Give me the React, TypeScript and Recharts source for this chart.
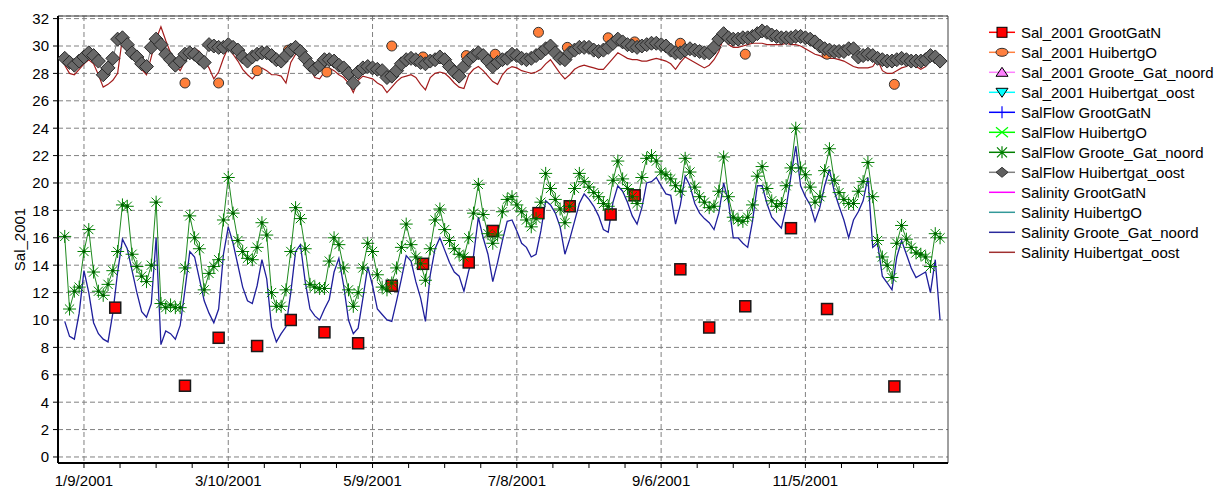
import React from 'react'
import { ComposedChart, Line, XAxis, YAxis, CartesianGrid, ReferenceLine } from 'recharts'

// days since 1 Jan 2001, model output every 2 days
const lineDays = Array.from({ length: 183 }, (_, i) => i * 2)

// Salinity Groote_Gat_noord (blue line)
const salGrooteGat = [
  9.9, 8.8, 8.6, 10.5, 13.6, 12.0, 9.8, 9.0, 8.6, 8.4,
  10.5, 13.5, 15.9, 15.2, 13.6, 12.0, 10.6, 10.2, 11.2, 16.0,
  8.2, 9.2, 9.0, 8.6, 9.6, 12.2, 15.0, 14.6, 13.0, 11.4,
  10.5, 9.8, 10.8, 14.8, 16.8, 15.6, 14.0, 12.4, 11.4, 11.2,
  12.5, 14.4, 13.0, 9.5, 8.4, 9.0, 9.5, 12.0, 15.0, 15.5,
  12.8, 10.8, 10.3, 10.0, 10.8, 11.5, 13.5, 14.5, 12.5, 10.0,
  9.0, 9.4, 11.6, 13.9, 12.5, 10.8, 10.4, 10.0, 9.9, 11.4,
  13.0, 14.7, 14.3, 12.8, 11.6, 9.9, 13.3, 15.2, 16.0, 15.1,
  14.2, 13.5, 13.2, 12.1, 13.6, 14.7, 17.5, 16.0, 14.8, 12.8,
  14.2, 15.8, 17.2, 17.3, 16.5, 15.6, 15.3, 14.6, 14.8, 16.5,
  18.7, 18.4, 17.8, 16.8, 14.8, 15.9, 17.2, 18.5, 19.2, 18.8,
  18.3, 17.6, 16.6, 16.4, 18.6, 19.8, 19.4, 18.6, 17.6, 17.0,
  18.2, 20.0, 20.1, 20.4, 19.8, 19.2, 19.1, 17.0, 18.4, 20.5,
  19.8, 18.5, 17.8, 17.4, 17.1, 16.6, 17.8, 20.0, 18.6, 16.0,
  16.0, 15.6, 15.3, 17.2, 19.8, 19.8, 18.5, 17.5, 17.1, 16.7,
  18.2, 20.5, 22.7, 19.8, 19.0, 18.4, 17.2, 18.2, 19.8, 21.0,
  19.4, 18.3, 17.3, 16.0, 17.3, 17.9, 18.7, 20.4, 15.3, 15.6,
  13.2, 12.7, 12.2, 14.6, 15.8, 14.8, 13.8, 13.1, 13.3, 13.5,
  12.0, 14.4, 10.0,
]

// SalFlow Groote_Gat_noord (green stars)
const flowGrooteGat = [
  16.1, 10.8, 12.1, 12.4, 15.0, 16.6, 13.5, 12.1, 11.8, 12.6,
  13.6, 15.0, 18.4, 18.3, 14.8, 13.9, 13.2, 12.8, 14.0, 18.6,
  11.2, 10.9, 11.1, 10.9, 10.9, 13.8, 17.6, 16.0, 15.2, 12.2,
  13.4, 13.9, 14.4, 17.3, 20.4, 17.8, 15.8, 15.0, 14.5, 14.4,
  15.3, 17.1, 16.2, 12.0, 11.0, 11.0, 12.2, 15.0, 18.2, 17.4,
  15.2, 12.6, 12.4, 12.3, 12.3, 14.3, 16.0, 15.5, 13.8, 12.2,
  11.0, 12.0, 13.8, 15.6, 15.0, 13.3, 12.4, 12.2, 12.7, 13.8,
  15.3, 17.0, 15.5, 14.6, 14.1, 12.9, 15.2, 17.3, 18.1, 16.6,
  15.8, 15.2, 14.8, 14.6, 16.0, 17.8, 19.9, 17.7, 16.3, 15.6,
  16.2, 17.9, 18.8, 19.0, 18.4, 17.9, 17.3, 16.8, 17.4, 18.6,
  20.7, 19.6, 18.8, 18.1, 17.1, 18.3, 19.6, 20.7, 20.1, 19.7,
  19.3, 19.0, 18.5, 18.3, 20.2, 21.6, 20.3, 19.6, 19.0, 18.5,
  20.4, 21.8, 22.0, 21.6, 20.8, 20.6, 20.3, 19.8, 19.4, 21.8,
  20.8, 19.7, 19.0, 18.6, 18.2, 18.3, 19.4, 21.9, 19.0, 17.5,
  17.3, 17.2, 17.5, 18.4, 20.5, 21.2, 19.6, 18.7, 18.3, 18.5,
  19.8, 21.1, 24.0, 21.1, 20.6, 19.7, 18.6, 19.0, 20.9, 22.5,
  20.2, 19.3, 18.8, 18.5, 18.5, 19.4, 20.1, 21.5, 19.0, 15.8,
  14.6, 14.0, 13.1, 15.6, 16.9, 15.9, 15.3, 14.9, 14.8, 14.6,
  13.9, 16.3, 16.0,
]

// SalFlow Huibertgat_oost (grey diamonds)
const flowHuibertgat = [
  29.1, 28.8, 28.6, 28.9, 29.2, 29.5, 29.3, 28.9, 27.9, 28.4,
  29.1, 30.5, 30.6, 30.1, 29.5, 29.2, 28.7, 28.5, 29.9, 30.5,
  30.1, 29.4, 29.0, 28.6, 28.9, 29.4, 29.5, 29.4, 29.1, 28.8,
  30.1, 30.0, 29.9, 29.9, 30.1, 29.9, 29.7, 29.2, 28.9, 29.2,
  29.4, 29.5, 29.5, 29.3, 29.0, 28.9, 29.3, 29.7, 29.9, 29.6,
  29.1, 28.6, 28.3, 28.6, 29.0, 29.0, 28.9, 28.6, 28.4, 28.0,
  27.3, 28.1, 28.4, 28.5, 28.4, 28.3, 28.2, 27.7, 27.8, 28.2,
  28.7, 29.0, 29.1, 29.0, 28.8, 28.7, 28.9, 29.0, 29.2, 29.0,
  28.5, 28.1, 27.8, 28.5, 29.0, 29.3, 29.5, 29.3, 28.9, 28.5,
  28.8, 29.0, 29.1, 29.4, 29.3, 29.1, 29.0, 29.1, 29.3, 29.5,
  29.8, 30.0, 29.5, 29.1, 29.0, 29.5, 29.7, 29.9, 29.9, 29.9,
  29.7, 29.6, 29.7, 29.9, 30.2, 30.5, 30.3, 30.1, 30.0, 29.9,
  30.0, 30.1, 30.2, 30.2, 30.1, 30.0, 29.7, 29.5, 29.5, 29.7,
  29.8, 29.7, 29.6, 29.5, 29.5, 29.9, 30.5, 30.9, 30.6, 30.5,
  30.5, 30.6, 30.6, 30.7, 30.9, 31.1, 31.0, 30.8, 30.7, 30.6,
  30.6, 30.6, 30.7, 30.7, 30.6, 30.5, 30.3, 30.0, 29.8, 29.7,
  29.6, 29.6, 29.6, 29.8, 29.8, 29.2, 29.3, 29.4, 29.3, 29.1,
  29.0, 28.9, 28.9, 29.0, 29.1, 29.0, 28.9, 28.9, 28.9, 29.0,
  29.3, 29.2, 28.9,
]

// Salinity Huibertgat_oost (dark red line)
const salHuibertgat = [
  28.6, 28.0, 27.9, 28.3, 28.7, 29.0, 28.7, 27.9, 27.0, 27.2,
  27.5, 28.0, 30.6, 30.4, 29.6, 29.0, 28.3, 27.9, 29.2, 30.5,
  31.4, 30.4, 29.5, 28.6, 28.2, 28.9, 29.7, 29.8, 29.6, 28.9,
  28.4, 27.6, 28.1, 29.1, 29.9, 29.4, 28.9, 28.3, 27.9, 27.6,
  28.0, 28.4, 28.2, 27.9, 27.9, 27.8, 27.3, 28.8, 29.4, 29.5,
  28.9, 28.4, 27.7, 27.6, 28.1, 28.4, 28.2, 27.9, 27.7, 27.3,
  26.6, 27.5, 27.8, 27.7, 27.6, 27.3, 27.1, 26.6, 27.0, 27.4,
  27.7, 27.8, 27.9, 27.7, 27.2, 26.8, 27.7, 28.0, 28.1, 28.0,
  27.7, 27.3, 27.0, 26.9, 27.9, 28.3, 28.5, 28.2, 27.8, 27.4,
  27.2, 27.9, 28.3, 28.5, 28.4, 28.2, 28.1, 28.0, 28.1, 28.3,
  28.7, 29.0, 28.5, 28.0, 27.6, 27.9, 28.3, 28.5, 28.6, 28.5,
  28.4, 28.3, 28.3, 28.7, 29.1, 29.5, 29.3, 29.1, 29.0, 29.0,
  28.9, 28.9, 29.0, 29.1, 29.0, 28.9, 28.7, 28.3, 28.8, 29.2,
  29.0, 28.8, 28.6, 28.4, 28.6, 29.0, 29.6, 30.6, 30.1, 29.9,
  29.9, 30.0, 30.1, 30.2, 30.2, 30.2, 30.1, 30.1, 30.1, 30.1,
  30.2, 30.1, 30.1, 30.0, 29.8, 29.6, 29.4, 29.3, 29.1, 29.1,
  29.1, 29.0, 28.9, 28.7, 28.5, 28.4, 28.4, 28.4, 28.5, 29.0,
  28.2, 28.0, 28.0, 28.2, 28.4, 28.5, 28.7, 28.5, 28.3, 28.5,
  29.0, 29.3, 28.4,
]

// field samples
const grootGatNDays = [21, 50, 64, 80, 94, 108, 122, 136, 149, 168, 178, 197, 210, 227, 237, 256, 268, 283, 302, 317, 345]
const grootGatNVals = [10.9, 5.2, 8.7, 8.1, 10.0, 9.1, 8.3, 12.5, 14.1, 14.2, 16.5, 17.8, 18.3, 17.7, 19.1, 13.7, 9.45, 11.0, 16.7, 10.8, 5.15]

const huibertgODays = [50, 64, 80, 93, 109, 136, 149, 167, 179, 197, 209, 226, 237, 256, 283, 317, 345]
const huibertgOVals = [27.3, 27.3, 28.2, 29.7, 28.1, 30.0, 29.2, 29.3, 29.4, 31.0, 29.9, 30.6, 30.3, 30.2, 29.4, 29.4, 27.2]

const majorTicks = [8, 68, 128, 188, 248, 308]
const majorLabels = ['1/9/2001', '3/10/2001', '5/9/2001', '7/8/2001', '9/6/2001', '11/5/2001']
const minorTicks = [8, 23, 38, 53, 68, 83, 98, 113, 128, 143, 158, 173, 188, 203, 218, 233, 248, 263, 278, 293, 308, 323, 338, 353]
const yTicks = [0, 2, 4, 6, 8, 10, 12, 14, 16, 18, 20, 22, 24, 26, 28, 30, 32]

const legendItems = [
  { name: 'Sal_2001 GrootGatN', color: '#ff0000', marker: 'square', fill: '#ff0000' },
  { name: 'Sal_2001 HuibertgO', color: '#ff8040', marker: 'ellipse', fill: '#ff8040' },
  { name: 'Sal_2001 Groote_Gat_noord', color: '#ff80ff', marker: 'triUp', fill: '#ff80ff' },
  { name: 'Sal_2001 Huibertgat_oost', color: '#00ffff', marker: 'triDown', fill: '#00ffff' },
  { name: 'SalFlow GrootGatN', color: '#0000ff', marker: 'plus', fill: '' },
  { name: 'SalFlow HuibertgO', color: '#00ff00', marker: 'cross', fill: '' },
  { name: 'SalFlow Groote_Gat_noord', color: '#008000', marker: 'star', fill: '' },
  { name: 'SalFlow Huibertgat_oost', color: '#808080', marker: 'diamond', fill: '#606060' },
  { name: 'Salinity GrootGatN', color: '#ff00ff', marker: 'none', fill: '' },
  { name: 'Salinity HuibertgO', color: '#339999', marker: 'none', fill: '' },
  { name: 'Salinity Groote_Gat_noord', color: '#2a2a9c', marker: 'none', fill: '' },
  { name: 'Salinity Huibertgat_oost', color: '#a03030', marker: 'none', fill: '' },
]

const X_MIN = -2.8
const X_MAX = 367.3
const Y_MIN = -0.44
const Y_MAX = 32.19
const FONT = "'Liberation Sans', Arial, sans-serif"

const toPoints = (days: number[], vals: number[]) => days.map((d, i) => ({ day: d, v: vals[i] }))

const blueData = toPoints(lineDays, salGrooteGat)
const greenData = toPoints(lineDays, flowGrooteGat)
const greyData = toPoints(lineDays, flowHuibertgat)
const redData = toPoints(lineDays, salHuibertgat)
const squareData = toPoints(grootGatNDays, grootGatNVals)
const circleData = toPoints(huibertgODays, huibertgOVals)

const ok = (p: any) => p && p.cx != null && p.cy != null && !isNaN(p.cx) && !isNaN(p.cy)

const SquareDot = (p: any) => {
  if (!ok(p)) return <g key={p?.index} />
  return <rect key={p.index} x={p.cx - 5.5} y={p.cy - 5.5} width={11} height={11} fill="#ff0000" stroke="#1a1a1a" strokeWidth={1.5} />
}

const CircleDot = (p: any) => {
  if (!ok(p)) return <g key={p?.index} />
  return <circle key={p.index} cx={p.cx} cy={p.cy} r={5} fill="#ff7f3a" stroke="#333" strokeWidth={1} />
}

const StarDot = (p: any) => {
  if (!ok(p)) return <g key={p?.index} />
  const { cx, cy } = p
  const r = 6.5
  const d = 4.6
  return (
    <g key={p.index}>
      <path
        d={`M${cx - r},${cy}H${cx + r}M${cx},${cy - r}V${cy + r}M${cx - d},${cy - d}L${cx + d},${cy + d}M${cx - d},${cy + d}L${cx + d},${cy - d}`}
        stroke="#008000"
        strokeWidth={1}
        fill="none"
      />
      <circle cx={cx} cy={cy} r={1.7} fill="#006000" />
    </g>
  )
}

const DiamondDot = (p: any) => {
  if (!ok(p)) return <g key={p?.index} />
  const { cx, cy } = p
  const s = 7
  return (
    <path
      key={p.index}
      d={`M${cx},${cy - s}L${cx + s},${cy}L${cx},${cy + s}L${cx - s},${cy}Z`}
      fill="#686868"
      stroke="#2a2a2a"
      strokeWidth={1}
    />
  )
}

function LegendMarker({ kind, color, fill }: { kind: string; color: string; fill: string }) {
  const cx = 17
  const cy = 0
  switch (kind) {
    case 'square':
      return <rect x={cx - 5} y={cy - 5} width={10} height={10} fill={fill} stroke="#000" strokeWidth={1} />
    case 'ellipse':
      return <ellipse cx={cx} cy={cy} rx={6} ry={4} fill={fill} stroke="#333" strokeWidth={1} />
    case 'triUp':
      return <path d={`M${cx},${cy - 5}L${cx + 6},${cy + 4}L${cx - 6},${cy + 4}Z`} fill={fill} stroke="#000" strokeWidth={1} />
    case 'triDown':
      return <path d={`M${cx - 6},${cy - 4}L${cx + 6},${cy - 4}L${cx},${cy + 5}Z`} fill={fill} stroke="#000" strokeWidth={1} />
    case 'plus':
      return <path d={`M${cx},${cy - 6}V${cy + 6}`} stroke={color} strokeWidth={1.2} />
    case 'cross':
      return <path d={`M${cx - 6},${cy - 5}L${cx + 6},${cy + 5}M${cx - 6},${cy + 5}L${cx + 6},${cy - 5}`} stroke={color} strokeWidth={1.2} />
    case 'star':
      return (
        <path
          d={`M${cx},${cy - 6}V${cy + 6}M${cx - 5},${cy - 5}L${cx + 5},${cy + 5}M${cx - 5},${cy + 5}L${cx + 5},${cy - 5}`}
          stroke={color}
          strokeWidth={1.2}
        />
      )
    case 'diamond':
      return <path d={`M${cx},${cy - 5}L${cx + 6},${cy}L${cx},${cy + 5}L${cx - 6},${cy}Z`} fill={fill} stroke="#333" strokeWidth={1} />
    default:
      return null
  }
}

function ChartLegend() {
  return (
    <svg width={234} height={250} style={{ position: 'absolute', left: 985, top: 20 }}>
      {legendItems.map((item, i) => (
        <g key={item.name} transform={`translate(0, ${12.3 + i * 20})`}>
          <line x1={4} x2={30} y1={0} y2={0} stroke={item.color} strokeWidth={1.5} />
          <LegendMarker kind={item.marker} color={item.color} fill={item.fill} />
          <text x={36} y={0} dy="0.36em" fontSize={15} fontFamily={FONT} fill="#000">
            {item.name}
          </text>
        </g>
      ))}
    </svg>
  )
}

const gridX = ({ xAxis, offset }: any) =>
  majorTicks.map((d) =>
    xAxis && typeof xAxis.scale === 'function'
      ? xAxis.scale(d)
      : offset.left + ((d - X_MIN) / (X_MAX - X_MIN)) * offset.width
  )

export default function App() {
  const tickStyle = { fill: '#000', fontSize: 15, fontFamily: FONT }
  return (
    <div style={{ position: 'absolute', left: 0, top: 0, width: 1219, height: 489, background: '#fff' }}>
      <ComposedChart width={1219} height={489} margin={{ top: 16, right: 271, bottom: 0, left: 0 }}>
        <CartesianGrid stroke="#808080" strokeDasharray="5 3" verticalCoordinatesGenerator={gridX} />
        <XAxis
          type="number"
          dataKey="day"
          domain={[X_MIN, X_MAX]}
          allowDataOverflow
          ticks={minorTicks}
          interval={0}
          tickFormatter={(d: number) => {
            const k = majorTicks.indexOf(d)
            return k >= 0 ? majorLabels[k] : ''
          }}
          height={26}
          tickSize={5}
          tickMargin={7}
          axisLine={{ stroke: '#000', strokeWidth: 2 }}
          tickLine={{ stroke: '#000' }}
          tick={tickStyle}
        />
        <YAxis
          type="number"
          dataKey="v"
          domain={[Y_MIN, Y_MAX]}
          allowDataOverflow
          ticks={yTicks}
          interval={0}
          width={58}
          tickSize={5}
          tickMargin={4}
          axisLine={{ stroke: '#000', strokeWidth: 2 }}
          tickLine={{ stroke: '#000' }}
          tick={tickStyle}
          label={{
            value: 'Sal_2001',
            angle: -90,
            position: 'insideLeft',
            offset: 20,
            fill: '#000',
            fontSize: 15,
            fontFamily: FONT,
            style: { textAnchor: 'middle' },
          }}
        />
        <ReferenceLine y={Y_MAX} stroke="#404040" strokeWidth={1} />
        <ReferenceLine x={X_MAX} stroke="#404040" strokeWidth={1} />

        <Line
          data={squareData}
          dataKey="v"
          name="Sal_2001 GrootGatN"
          stroke="none"
          dot={SquareDot}
          activeDot={false}
          isAnimationActive={false}
        />
        <Line
          data={circleData}
          dataKey="v"
          name="Sal_2001 HuibertgO"
          stroke="none"
          dot={CircleDot}
          activeDot={false}
          isAnimationActive={false}
        />
        <Line
          data={greenData}
          dataKey="v"
          name="SalFlow Groote_Gat_noord"
          type="linear"
          stroke="#1f8a1f"
          strokeWidth={1}
          dot={StarDot}
          activeDot={false}
          isAnimationActive={false}
        />
        <Line
          data={greyData}
          dataKey="v"
          name="SalFlow Huibertgat_oost"
          type="linear"
          stroke="#808080"
          strokeWidth={1}
          dot={DiamondDot}
          activeDot={false}
          isAnimationActive={false}
        />
        <Line
          data={blueData}
          dataKey="v"
          name="Salinity Groote_Gat_noord"
          type="linear"
          stroke="#1f1f9c"
          strokeWidth={1.3}
          dot={false}
          activeDot={false}
          isAnimationActive={false}
        />
        <Line
          data={redData}
          dataKey="v"
          name="Salinity Huibertgat_oost"
          type="linear"
          stroke="#a31c1c"
          strokeWidth={1.2}
          dot={false}
          activeDot={false}
          isAnimationActive={false}
        />
      </ComposedChart>
      <ChartLegend />
    </div>
  )
}
